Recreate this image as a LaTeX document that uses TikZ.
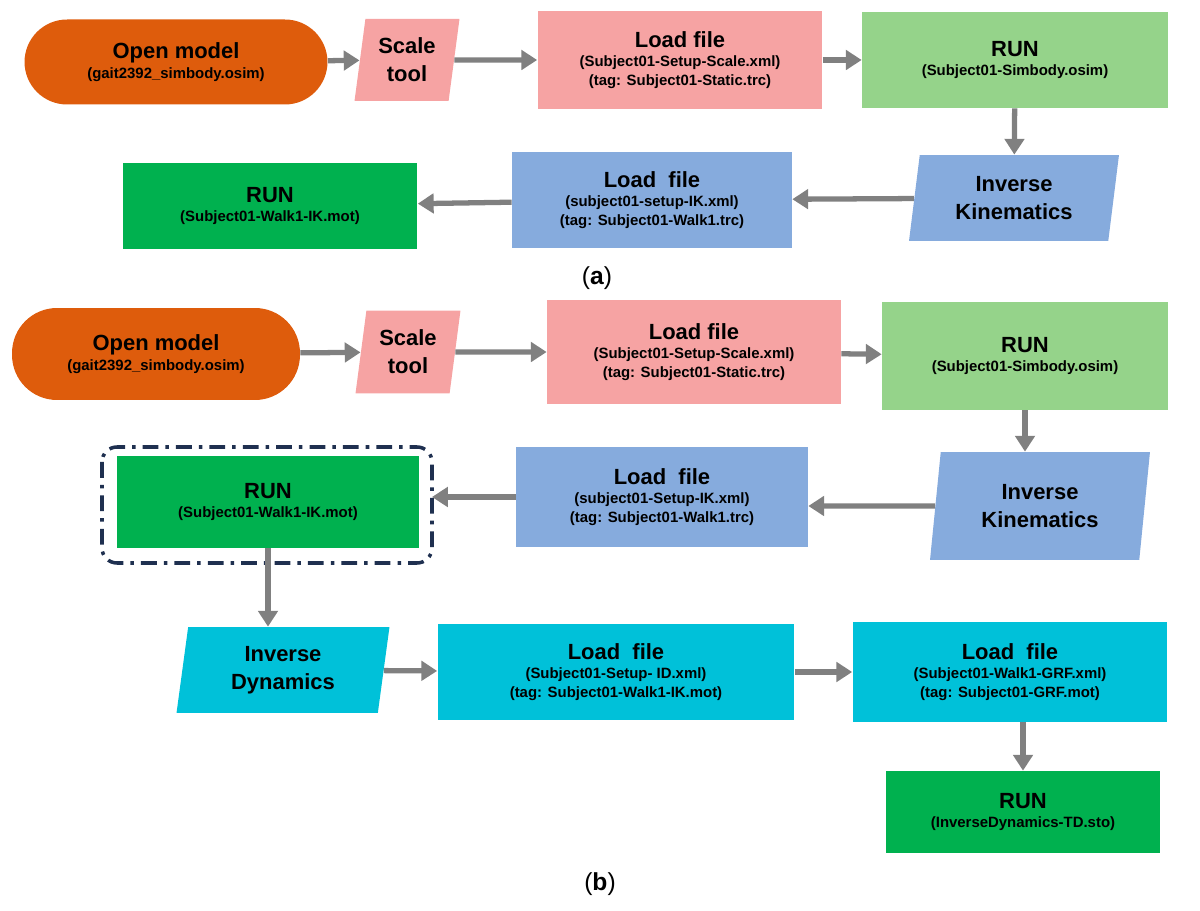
\documentclass[tikz,border=0pt]{standalone}
\usepackage{fontspec}
\setmainfont{Liberation Sans}
\usetikzlibrary{shapes.geometric,arrows.meta}
\definecolor{orangemod}{HTML}{DE5C0C}
\definecolor{pinkstep}{HTML}{F6A3A3}
\definecolor{lightgreen}{HTML}{95D38A}
\definecolor{bluestep}{HTML}{86ABDD}
\definecolor{greenrun}{HTML}{00B14F}
\definecolor{cyanstep}{HTML}{00C1D9}
\definecolor{arrowgray}{HTML}{808080}
\definecolor{navydash}{HTML}{1F3050}
\tikzset{
  box/.style={rectangle,align=center,font=\bfseries\fontsize{8.5}{11}\selectfont,inner sep=2pt},
  para/.style={trapezium,trapezium left angle=78,trapezium right angle=102,trapezium stretches body,
    align=center,font=\bfseries\fontsize{12.5}{16}\selectfont,inner sep=2pt},
  flow/.style={draw=arrowgray,line width=3pt,-{Triangle[length=9pt,width=11pt]}},
}
\newcommand{\ttl}[1]{{\fontsize{12.5}{16}\selectfont #1}}
\begin{document}
\begin{tikzpicture}[x=0.02cm,y=-0.02cm]
\useasboundingbox (0,0) rectangle (1200,911);
% (a)
\node [box,fill=orangemod,rounded corners=0.85cm,minimum width=6.06cm,minimum height=1.7cm] (om1) at (176,62) {\ttl{Open model}\\(gait2392\_simbody.osim)};
\node [para,fill=pinkstep,minimum width=2.1cm,minimum height=1.64cm] (sc1) at (407,60) {Scale\\tool};
\node [box,fill=pinkstep,minimum width=5.7cm,minimum height=1.96cm] (lf1) at (680,60) {\ttl{Load file}\\(Subject01-Setup-Scale.xml)\\(tag: Subject01-Static.trc)};
\node [box,fill=lightgreen,minimum width=6.12cm,minimum height=1.92cm] (run1) at (1015,60) {\ttl{RUN}\\(Subject01-Simbody.osim)};
\node [para,fill=bluestep,minimum width=4.2cm,minimum height=1.72cm] (ik1) at (1014,198) {Inverse\\Kinematics};
\node [box,fill=bluestep,minimum width=5.6cm,minimum height=1.92cm] (lf2) at (652,200) {\ttl{Load\ \ file}\\(subject01-setup-IK.xml)\\(tag: Subject01-Walk1.trc)};
\node [box,fill=greenrun,minimum width=5.9cm,minimum height=1.74cm] (run2) at (270,206) {\ttl{RUN}\\(Subject01-Walk1-IK.mot)};
\node [font=\fontsize{14}{16}\selectfont] (lbla) at (597,278) {(\textbf{a})};
\draw [flow] (om1) -- (sc1);
\draw [flow] (sc1) -- (lf1);
\draw [flow] (lf1) -- (run1);
\draw [flow] (run1) -- (ik1);
\draw [flow] (ik1) -- (lf2);
\draw [flow] (lf2) -- (run2);
% (b)
\node [box,fill=orangemod,rounded corners=0.9cm,minimum width=5.76cm,minimum height=1.84cm] (om2) at (156,354) {\ttl{Open model}\\(gait2392\_simbody.osim)};
\node [para,fill=pinkstep,minimum width=2.1cm,minimum height=1.66cm] (sc2) at (408,352) {Scale\\tool};
\node [box,fill=pinkstep,minimum width=5.88cm,minimum height=2.08cm] (lf3) at (694,352) {\ttl{Load file}\\(Subject01-Setup-Scale.xml)\\(tag: Subject01-Static.trc)};
\node [box,fill=lightgreen,minimum width=5.72cm,minimum height=2.16cm] (run3) at (1025,356) {\ttl{RUN}\\(Subject01-Simbody.osim)};
\node [para,fill=bluestep,minimum width=4.4cm,minimum height=2.16cm] (ik2) at (1040,506) {Inverse\\Kinematics};
\node [box,fill=bluestep,minimum width=5.84cm,minimum height=2.02cm] (lf4) at (662,497) {\ttl{Load\ \ file}\\(subject01-Setup-IK.xml)\\(tag: Subject01-Walk1.trc)};
\node [box,fill=greenrun,minimum width=6.06cm,minimum height=1.84cm] (run4) at (268,502) {\ttl{RUN}\\(Subject01-Walk1-IK.mot)};
\draw [navydash,line width=2pt,dash pattern=on 9pt off 4pt on 2pt off 4pt,rounded corners=0.3cm] (102,447) rectangle (432,563);
\node [para,fill=cyanstep,minimum width=4.26cm,minimum height=1.72cm] (id1) at (283,670) {Inverse\\Dynamics};
\node [box,fill=cyanstep,minimum width=7.14cm,minimum height=1.92cm] (lf5) at (616,672) {\ttl{Load\ \ file}\\(Subject01-Setup- ID.xml)\\(tag: Subject01-Walk1-IK.mot)};
\node [box,fill=cyanstep,minimum width=6.3cm,minimum height=2cm] (lf6) at (1010,672) {\ttl{Load\ \ file}\\(Subject01-Walk1-GRF.xml)\\(tag: Subject01-GRF.mot)};
\node [box,fill=greenrun,minimum width=5.48cm,minimum height=1.64cm] (run5) at (1023,812) {\ttl{RUN}\\(InverseDynamics-TD.sto)};
\node [font=\fontsize{14}{16}\selectfont] (lblb) at (600,884) {(\textbf{b})};
\draw [flow] (om2) -- (sc2);
\draw [flow] (sc2) -- (lf3);
\draw [flow] (lf3) -- (run3);
\draw [flow] (run3) -- (run3 |- ik2.north);
\draw [flow] (ik2) -- (ik2 -| lf4.east);
\draw [flow] (lf4) -- (lf4 -| 432,0);
\draw [flow] (run4.south) -- (run4.south |- id1.north);
\draw [flow] (id1) -- (lf5);
\draw [flow] (lf5) -- (lf6);
\draw [flow] (lf6.south -| run5) -- (run5);
\end{tikzpicture}
\end{document}
